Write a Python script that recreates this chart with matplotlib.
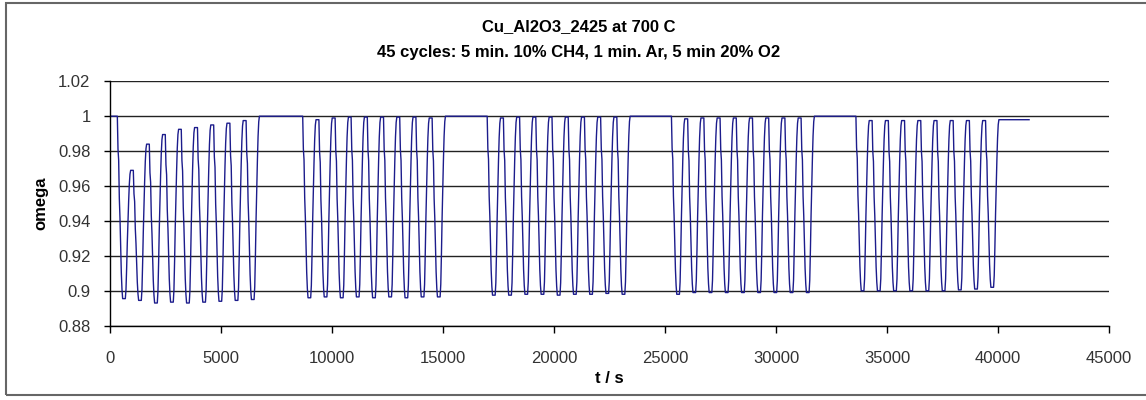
import numpy as np
import matplotlib.pyplot as plt
from matplotlib.patches import Rectangle

plt.rcParams['font.family'] = ['Liberation Sans', 'DejaVu Sans']

# time of full reduction (middle of each bottom), s -- 5 blocks of 9 cycles
dip_t1 = [630, 1350, 2070, 2790, 3510, 4240, 4970, 5700, 6430]
dip_t2 = [8980, 9710, 10440, 11160, 11890, 12620, 13350, 14080, 14810]
dip_t3 = [17290, 18020, 18750, 19480, 20210, 20940, 21670, 22400, 23130]
dip_t4 = [25590, 26320, 27050, 27780, 28510, 29240, 29970, 30700, 31430]
dip_t5 = [33900, 34630, 35360, 36090, 36820, 37550, 38280, 39010, 39740]

# omega at the bottom of each reduction
dip_w1 = [0.8955, 0.8945, 0.893, 0.8935, 0.893, 0.8935, 0.894, 0.8945, 0.895]
dip_w2 = [0.896, 0.8965, 0.896, 0.8965, 0.896, 0.8965, 0.896, 0.8965, 0.8965]
dip_w3 = [0.8975, 0.8975, 0.898, 0.898, 0.8975, 0.898, 0.898, 0.8985, 0.898]
dip_w4 = [0.898, 0.899, 0.899, 0.899, 0.899, 0.899, 0.899, 0.899, 0.899]
dip_w5 = [0.900, 0.900, 0.900, 0.900, 0.900, 0.900, 0.9005, 0.901, 0.902]

# omega after each reoxidation (last value = plateau after the block)
peak_w1 = [0.969, 0.984, 0.9895, 0.9925, 0.9935, 0.995, 0.996, 0.9975, 1.0]
peak_w2 = [0.998, 0.999, 0.9995, 0.9995, 0.9995, 0.9995, 0.9995, 0.999, 1.0]
peak_w3 = [0.999, 0.9995, 0.9995, 0.9995, 0.9995, 0.9995, 0.9995, 0.9995, 1.0]
peak_w4 = [0.9985, 0.999, 0.999, 0.999, 0.999, 0.999, 0.999, 0.999, 1.0]
peak_w5 = [0.9975, 0.9975, 0.9975, 0.9975, 0.9975, 0.9975, 0.9975, 0.9975, 0.998]

# shape of one step, fraction of the change every 30 s
red_frac = [0.0, 0.18, 0.24, 0.45, 0.56, 0.72, 0.86, 0.95, 1.0]
ox_frac = [0.0, 0.07, 0.24, 0.44, 0.60, 0.76, 0.89, 0.97, 1.0]
t_end = 41400

blocks = [(dip_t1, dip_w1, peak_w1), (dip_t2, dip_w2, peak_w2),
          (dip_t3, dip_w3, peak_w3), (dip_t4, dip_w4, peak_w4),
          (dip_t5, dip_w5, peak_w5)]

t = [0]
w = [1.0]
level = 1.0
for dts, dws, pws in blocks:
    for d, lo, hi in zip(dts, dws, pws):
        t0 = d - 300
        for k, f in enumerate(red_frac):
            t.append(t0 + 30 * k)
            w.append(level - f * (level - lo))
        t1 = d + 60
        for k, f in enumerate(ox_frac):
            t.append(t1 + 30 * k)
            w.append(lo + f * (hi - lo))
        level = hi
t.append(t_end)
w.append(level)

fig = plt.figure(figsize=(11.46, 4.0), dpi=100)
ax = fig.add_axes([110/1146, 0.18575, 999/1146, 0.611])

ax.plot(t, w, color='#1c1c8c', lw=1.0)

ax.set_xlim(0, 45000)
ax.set_ylim(0.88, 1.02)
ax.set_xticks(np.arange(0, 45001, 5000))
ax.set_yticks(np.arange(0.88, 1.0201, 0.02))
ax.set_yticklabels(['0.88', '0.9', '0.92', '0.94', '0.96', '0.98', '1', '1.02'])
ax.grid(axis='y', color='#222222', lw=1.0)
ax.set_axisbelow(True)
for s in ['top', 'right']:
    ax.spines[s].set_visible(False)
for s in ['left', 'bottom']:
    ax.spines[s].set_color('black')
    ax.spines[s].set_linewidth(1.0)
ax.tick_params(axis='y', direction='out', length=4, width=1, pad=10,
               labelsize=12, labelcolor='#333333')
ax.tick_params(axis='x', direction='out', length=5, width=1, pad=13,
               labelsize=12, labelcolor='#333333')

ax.set_xlabel('t / s', fontsize=12, fontweight='bold')
ax.xaxis.set_label_coords(0.5, -0.214)
ax.xaxis.label.set_va('center')
ax.set_ylabel('omega', fontsize=12, fontweight='bold')
ax.yaxis.set_label_coords(-0.069, 0.5)
ax.yaxis.label.set_va('center')

fig.text(579/1146, 1 - 27/400, 'Cu_Al2O3_2425 at 700 C', ha='center',
         va='center', fontsize=12, fontweight='bold')
fig.text(579/1146, 1 - 52/400,
         '45 cycles: 5 min. 10% CH4, 1 min. Ar, 5 min 20% O2',
         ha='center', va='center', fontsize=12, fontweight='bold')

# chart frame
fig.patches.append(Rectangle((6/1146, 5/400), 1.1, 1 - 7.5/400,
                             transform=fig.transFigure, fill=False,
                             edgecolor='#666666', lw=1.5))

fig.savefig('out.png', dpi=100)
